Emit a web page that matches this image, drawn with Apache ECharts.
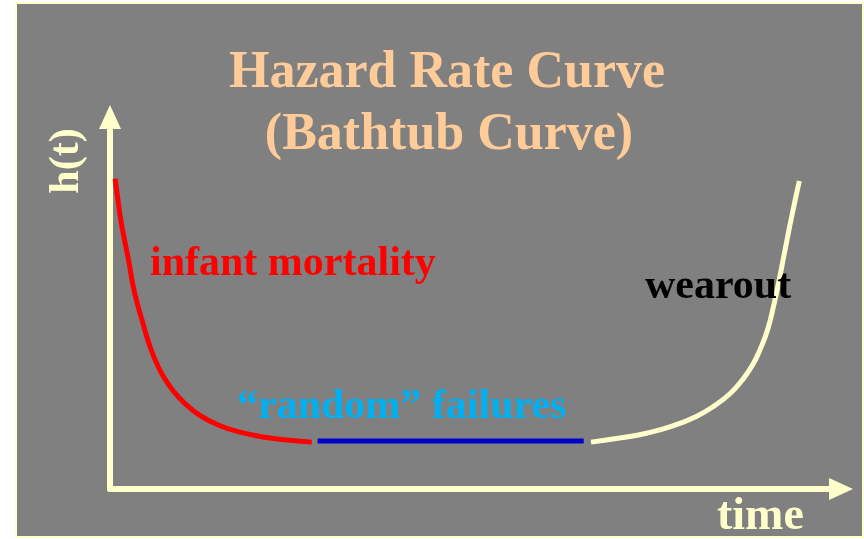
<!DOCTYPE html>
<html lang="en">
  <head>
    <meta charset="UTF-8" />
    <title>Hazard Rate Curve (Bathtub Curve)</title>
    <script src="https://cdn.jsdelivr.net/npm/echarts@6/dist/echarts.min.js"></script>
    <style>
      body { margin: 0; background: #ffffff; }
    </style>
  </head>
  <body>
    <div id="main" style="width: 864px; height: 539px"></div>
    <script type="text/javascript">
      // Curve readings (t and h on a 0..100 scale)
      const infantT = [0.7, 1.1, 1.5, 2.0, 2.6, 3.1, 3.7, 4.4, 5.2, 6.1,
                       7.2, 8.6, 10.2, 12.3, 14.8, 17.8, 21.2, 24.6, 27.6];
      const infantH = [83.4, 77.5, 72.1, 66.8, 60.9, 55.2, 50.1, 45.3, 39.9, 35.1,
                       30.6, 26.5, 23.1, 19.8, 17.2, 15.3, 13.9, 13.1, 12.6];

      const randomT = [28.4, 64.8];
      const randomH = [12.9, 12.9];

      const wearT = [65.8, 69.7, 73.4, 76.9, 80.2, 82.7, 84.8, 86.5, 87.9,
                     89.0, 90.0, 90.8, 91.5, 92.2, 92.9, 93.6, 94.3];
      const wearH = [12.6, 13.7, 15.0, 16.9, 19.5, 22.4, 25.6, 29.3, 33.3,
                     37.8, 43.1, 49.4, 55.8, 62.8, 69.8, 76.5, 82.8];

      const zip = (t, h) => t.map((v, i) => [v, h[i]]);

      const serif = "'Liberation Serif', 'DejaVu Serif', serif";
      const cream = "#FFFFCC";
      const peach = "#FFCC99";

      let myChart = echarts.init(document.getElementById("main"));

      // small helper for the text blocks
      function label(text, x, y, color, size, align) {
        return {
          type: "text",
          x: x,
          y: y,
          z: 10,
          style: {
            text: text,
            fill: color,
            font: "bold " + size + "px " + serif,
            align: align || "left",
            verticalAlign: "middle"
          }
        };
      }

      const axisStyle = {
        type: "value",
        min: 0,
        max: 100,
        axisLine: {
          show: true,
          symbol: ["none", "triangle"],
          symbolSize: [22, 24],
          lineStyle: { color: cream, width: 6 }
        },
        axisTick: { show: false },
        axisLabel: { show: false },
        splitLine: { show: false }
      };

      let options = {
        animation: false,
        backgroundColor: "#ffffff",
        grid: { left: 110, right: 23, top: 117, bottom: 50 },
        xAxis: axisStyle,
        yAxis: axisStyle,
        graphic: [
          {
            type: "rect",
            z: -10,
            shape: { x: 16, y: 3, width: 847, height: 534 },
            style: { fill: "#808080", stroke: cream, lineWidth: 2 }
          },
          label("Hazard Rate Curve", 447, 74, peach, 52, "center"),
          label("(Bathtub Curve)", 449, 136, peach, 52, "center"),
          label("infant mortality", 150, 264, "#FF0000", 42),
          label("\u201crandom\u201d failures", 237, 407, "#00B0F0", 42),
          label("wearout", 645, 287, "#000000", 42),
          label("time", 717, 517, cream, 46),
          {
            type: "text",
            x: 67,
            y: 161,
            rotation: Math.PI / 2,
            z: 10,
            style: {
              text: "h(t)",
              fill: cream,
              font: "bold 42px " + serif,
              align: "center",
              verticalAlign: "middle"
            }
          }
        ],
        series: [
          {
            name: "infant mortality",
            type: "line",
            smooth: 0.5,
            showSymbol: false,
            lineStyle: { color: "#FF0000", width: 5 },
            data: zip(infantT, infantH)
          },
          {
            name: "random failures",
            type: "line",
            showSymbol: false,
            lineStyle: { color: "#0000CC", width: 5 },
            data: zip(randomT, randomH)
          },
          {
            name: "wearout",
            type: "line",
            smooth: 0.5,
            showSymbol: false,
            lineStyle: { color: cream, width: 5 },
            data: zip(wearT, wearH)
          }
        ]
      };

      myChart.setOption(options);
    </script>
  </body>
</html>
